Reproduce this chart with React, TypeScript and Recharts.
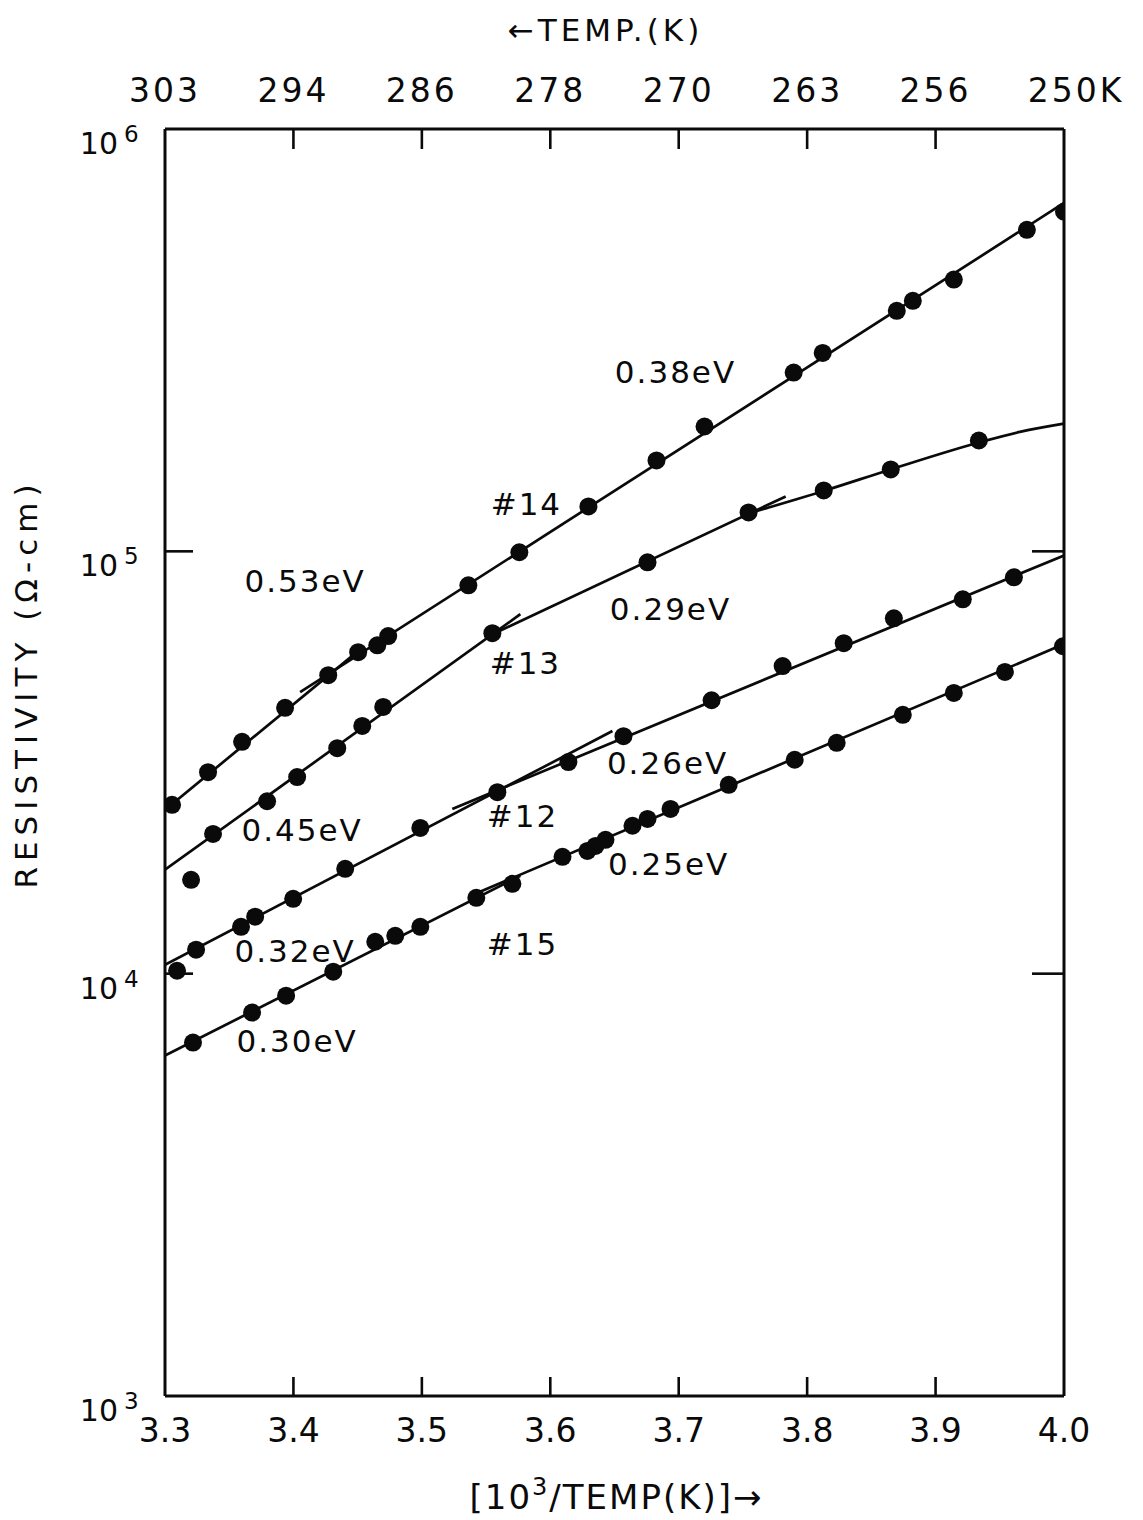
import React from 'react';
import { ComposedChart, XAxis, YAxis, Scatter, Line } from 'recharts';

const FONT = '"DejaVu Sans", "Liberation Sans", sans-serif';

// ---- axes ----
const xTicks = [3.3, 3.4, 3.5, 3.6, 3.7, 3.8, 3.9, 4.0];
const xTickLabels = ['3.3', '3.4', '3.5', '3.6', '3.7', '3.8', '3.9', '4.0'];
const topTickLabels = ['303', '294', '286', '278', '270', '263', '256', '250K'];
const yTicks = [1e3, 1e4, 1e5, 1e6];
const yTickExponents = ['3', '4', '5', '6'];
const yInnerTicks = [1e4, 1e5];

// ---- measured points (x = 10^3/T, y = resistivity in ohm-cm) ----
const sample14 = [
  { x: 3.3055, y: 2.51e4 }, { x: 3.3335, y: 3.0e4 }, { x: 3.36, y: 3.54e4 },
  { x: 3.3935, y: 4.26e4 }, { x: 3.4271, y: 5.09e4 }, { x: 3.4504, y: 5.77e4 },
  { x: 3.4653, y: 5.99e4 }, { x: 3.4738, y: 6.3e4 }, { x: 3.5362, y: 8.31e4 },
  { x: 3.5759, y: 9.95e4 }, { x: 3.6297, y: 1.277e5 }, { x: 3.6827, y: 1.641e5 },
  { x: 3.7201, y: 1.975e5 }, { x: 3.7895, y: 2.65e5 }, { x: 3.8121, y: 2.95e5 },
  { x: 3.8698, y: 3.71e5 }, { x: 3.8823, y: 3.92e5 }, { x: 3.9142, y: 4.4e5 },
  { x: 3.9711, y: 5.77e5 }, { x: 4.0, y: 6.37e5 },
];
const sample13 = [
  { x: 3.3203, y: 1.668e4 }, { x: 3.3374, y: 2.142e4 }, { x: 3.3795, y: 2.56e4 },
  { x: 3.4029, y: 2.92e4 }, { x: 3.4341, y: 3.42e4 }, { x: 3.4536, y: 3.86e4 },
  { x: 3.4699, y: 4.28e4 }, { x: 3.5549, y: 6.4e4 }, { x: 3.6757, y: 9.42e4 },
  { x: 3.7544, y: 1.236e5 }, { x: 3.8129, y: 1.394e5 }, { x: 3.8651, y: 1.563e5 },
  { x: 3.9337, y: 1.83e5 },
];
const sample12 = [
  { x: 3.3094, y: 1.016e4 }, { x: 3.3242, y: 1.14e4 }, { x: 3.3592, y: 1.291e4 },
  { x: 3.3702, y: 1.364e4 }, { x: 3.3998, y: 1.504e4 }, { x: 3.4403, y: 1.771e4 },
  { x: 3.4988, y: 2.214e4 }, { x: 3.5588, y: 2.69e4 }, { x: 3.6141, y: 3.17e4 },
  { x: 3.657, y: 3.65e4 }, { x: 3.7256, y: 4.44e4 }, { x: 3.7809, y: 5.35e4 },
  { x: 3.8285, y: 6.06e4 }, { x: 3.8675, y: 6.94e4 }, { x: 3.9212, y: 7.7e4 },
  { x: 3.961, y: 8.68e4 },
];
const sample15 = [
  { x: 3.3218, y: 6.87e3 }, { x: 3.3678, y: 8.09e3 }, { x: 3.3943, y: 8.87e3 },
  { x: 3.431, y: 1.011e4 }, { x: 3.4637, y: 1.19e4 }, { x: 3.4793, y: 1.229e4 },
  { x: 3.4988, y: 1.291e4 }, { x: 3.5424, y: 1.512e4 }, { x: 3.5705, y: 1.632e4 },
  { x: 3.6095, y: 1.891e4 }, { x: 3.6289, y: 1.953e4 }, { x: 3.6352, y: 2.007e4 },
  { x: 3.643, y: 2.074e4 }, { x: 3.664, y: 2.24e4 }, { x: 3.6757, y: 2.325e4 },
  { x: 3.6936, y: 2.455e4 }, { x: 3.7389, y: 2.8e4 }, { x: 3.7903, y: 3.21e4 },
  { x: 3.823, y: 3.52e4 }, { x: 3.8745, y: 4.1e4 }, { x: 3.9142, y: 4.62e4 },
  { x: 3.954, y: 5.18e4 }, { x: 3.9992, y: 5.96e4 },
];

// ---- fitted lines ----
const fit14a = [{ x: 3.3, y: 2.442e4 }, { x: 3.4536, y: 5.915e4 }]; // 0.53 eV
const fit14b = [{ x: 3.4052, y: 4.64e4 }, { x: 4.0, y: 6.68e5 }]; // 0.38 eV
const fit13a = [{ x: 3.3, y: 1.762e4 }, { x: 3.5767, y: 7.1e4 }]; // 0.45 eV
const fit13b = [{ x: 3.5533, y: 6.33e4 }, { x: 3.7833, y: 1.349e5 }]; // 0.29 eV
const fit13c = [
  { x: 3.7544, y: 1.23e5 }, { x: 3.8129, y: 1.39e5 }, { x: 3.8651, y: 1.563e5 },
  { x: 3.9337, y: 1.81e5 }, { x: 3.9665, y: 1.921e5 }, { x: 4.0, y: 2.007e5 },
];
const fit12a = [{ x: 3.3, y: 1.05e4 }, { x: 3.6484, y: 3.754e4 }]; // 0.32 eV
const fit12b = [{ x: 3.5237, y: 2.455e4 }, { x: 4.0, y: 9.78e4 }]; // 0.26 eV
const fit15a = [{ x: 3.3, y: 6.4e3 }, { x: 3.5767, y: 1.705e4 }]; // 0.30 eV
const fit15b = [{ x: 3.5416, y: 1.546e4 }, { x: 4.0, y: 6.03e4 }]; // 0.25 eV

// ---- annotations ----
const annotations = [
  { x: 3.4091, y: 8.49e4, label: '0.53eV' },
  { x: 3.6975, y: 2.664e5, label: '0.38eV' },
  { x: 3.5814, y: 1.291e5, label: '#14' },
  { x: 3.6936, y: 7.29e4, label: '0.29eV' },
  { x: 3.5806, y: 5.44e4, label: '#13' },
  { x: 3.4068, y: 2.19e4, label: '0.45eV' },
  { x: 3.6913, y: 3.155e4, label: '0.26eV' },
  { x: 3.5783, y: 2.363e4, label: '#12' },
  { x: 3.6921, y: 1.82e4, label: '0.25eV' },
  { x: 3.5783, y: 1.177e4, label: '#15' },
  { x: 3.4013, y: 1.133e4, label: '0.32eV' },
  { x: 3.4029, y: 6.91e3, label: '0.30eV' },
];

const fitLines = [fit14a, fit14b, fit13a, fit13b, fit12a, fit12b, fit15a, fit15b];
const samples = [sample14, sample13, sample12, sample15];

// ---- layout ----
const W = 1127;
const H = 1512;
const M = { top: 41, right: 51, bottom: 64, left: 57 };
const YL_W = 100;
const YR_W = 20;
const XT_H = 80;
const XB_H = 60;
const PLOT_LEFT = M.left + YL_W;
const PLOT_RIGHT = W - M.right - YR_W;
const PLOT_TOP = M.top + XT_H;
const PLOT_BOTTOM = H - M.bottom - XB_H;
const INK = '#0a0a0a';

const BottomTick = (props: any) => {
  const { x, y, payload } = props;
  const i = xTicks.indexOf(payload.value);
  const inner = i > 0 && i < xTicks.length - 1;
  return (
    <g>
      {inner && <line x1={x} y1={y} x2={x} y2={y - 19} stroke={INK} strokeWidth={2.6} />}
      <text x={x} y={y + 46} textAnchor="middle" fontSize={33} fontFamily={FONT} fill={INK}>
        {xTickLabels[i]}
      </text>
    </g>
  );
};

const TopTick = (props: any) => {
  const { x, y, payload } = props;
  const i = xTicks.indexOf(payload.value);
  const inner = i > 0 && i < xTicks.length - 1;
  const last = i === xTicks.length - 1;
  return (
    <g>
      {inner && <line x1={x} y1={y} x2={x} y2={y + 20} stroke={INK} strokeWidth={2.6} />}
      <text
        x={last ? x + 12 : x}
        y={y - 27}
        textAnchor="middle"
        fontSize={33}
        letterSpacing={3}
        fontFamily={FONT}
        fill={INK}
      >
        {topTickLabels[i]}
      </text>
    </g>
  );
};

const LeftTick = (props: any) => {
  const { x, y, payload } = props;
  const i = yTicks.indexOf(payload.value);
  const inner = yInnerTicks.includes(payload.value);
  return (
    <g>
      {inner && <line x1={x} y1={y} x2={x + 28} y2={y} stroke={INK} strokeWidth={2.6} />}
      <text x={x - 47} y={y + 25} textAnchor="end" fontSize={30} fontFamily={FONT} fill={INK}>
        10
      </text>
      <text x={x - 41} y={y + 13} textAnchor="start" fontSize={23} fontFamily={FONT} fill={INK}>
        {yTickExponents[i]}
      </text>
    </g>
  );
};

const RightTick = (props: any) => {
  const { x, y, payload } = props;
  const inner = yInnerTicks.includes(payload.value);
  return <g>{inner && <line x1={x} y1={y} x2={x - 32} y2={y} stroke={INK} strokeWidth={2.6} />}</g>;
};

const Dot = (p: any) => <circle cx={p.cx} cy={p.cy} r={9} fill={INK} />;

const Annotation = (p: any) => (
  <text
    x={p.cx}
    y={p.cy + 11}
    textAnchor="middle"
    fontSize={31}
    letterSpacing={2}
    fontFamily={FONT}
    fill={INK}
  >
    {p.payload.label}
  </text>
);

export default function App() {
  return (
    <div style={{ position: 'relative', width: W, height: H, background: '#fff' }}>
      <ComposedChart width={W} height={H} margin={M}>
        <XAxis
          xAxisId="b"
          dataKey="x"
          type="number"
          domain={[3.3, 4.0]}
          ticks={xTicks}
          interval={0}
          allowDataOverflow
          orientation="bottom"
          height={XB_H}
          tickSize={0}
          tickMargin={0}
          tickLine={false}
          axisLine={{ stroke: INK, strokeWidth: 3 }}
          tick={BottomTick}
        />
        <XAxis
          xAxisId="t"
          dataKey="x"
          type="number"
          domain={[3.3, 4.0]}
          ticks={xTicks}
          interval={0}
          allowDataOverflow
          orientation="top"
          height={XT_H}
          tickSize={0}
          tickMargin={0}
          tickLine={false}
          axisLine={{ stroke: INK, strokeWidth: 3 }}
          tick={TopTick}
        />
        <YAxis
          yAxisId="l"
          dataKey="y"
          type="number"
          scale="log"
          domain={[1e3, 1e6]}
          ticks={yTicks}
          interval={0}
          allowDataOverflow
          orientation="left"
          width={YL_W}
          tickSize={0}
          tickMargin={0}
          tickLine={false}
          axisLine={{ stroke: INK, strokeWidth: 3 }}
          tick={LeftTick}
        />
        <YAxis
          yAxisId="r"
          dataKey="y"
          type="number"
          scale="log"
          domain={[1e3, 1e6]}
          ticks={yTicks}
          interval={0}
          allowDataOverflow
          orientation="right"
          width={YR_W}
          tickSize={0}
          tickMargin={0}
          tickLine={false}
          axisLine={{ stroke: INK, strokeWidth: 3 }}
          tick={RightTick}
        />
        {fitLines.map((d, i) => (
          <Line
            key={'fit' + i}
            xAxisId="b"
            yAxisId="l"
            data={d}
            dataKey="y"
            type="linear"
            stroke={INK}
            strokeWidth={2.7}
            dot={false}
            activeDot={false}
            legendType="none"
            isAnimationActive={false}
          />
        ))}
        <Line
          xAxisId="b"
          yAxisId="l"
          data={fit13c}
          dataKey="y"
          type="monotone"
          stroke={INK}
          strokeWidth={2.7}
          dot={false}
          activeDot={false}
          legendType="none"
          isAnimationActive={false}
        />
        {samples.map((d, i) => (
          <Scatter
            key={'s' + i}
            xAxisId="b"
            yAxisId="l"
            data={d}
            dataKey="y"
            shape={Dot}
            legendType="none"
            isAnimationActive={false}
          />
        ))}
        <Scatter
          xAxisId="b"
          yAxisId="l"
          data={annotations}
          dataKey="y"
          shape={Annotation}
          legendType="none"
          isAnimationActive={false}
        />
      </ComposedChart>
      <svg
        width={W}
        height={H}
        style={{ position: 'absolute', left: 0, top: 0, pointerEvents: 'none' }}
      >
        <text
          x={(PLOT_LEFT + PLOT_RIGHT) / 2 - 9}
          y={PLOT_TOP - 88}
          textAnchor="middle"
          fontSize={31}
          letterSpacing={4}
          fontFamily={FONT}
          fill={INK}
        >
          ←TEMP.(K)
        </text>
        <text
          x={(PLOT_LEFT + PLOT_RIGHT) / 2 + 2}
          y={PLOT_BOTTOM + 113}
          textAnchor="middle"
          fontSize={34}
          letterSpacing={2}
          fontFamily={FONT}
          fill={INK}
        >
          [10
          <tspan dy={-14} fontSize={24}>3</tspan>
          <tspan dy={14}>/TEMP(K)]→</tspan>
        </text>
        <text
          x={PLOT_LEFT - 128}
          y={(PLOT_TOP + PLOT_BOTTOM) / 2 - 79}
          transform={`rotate(-90, ${PLOT_LEFT - 128}, ${(PLOT_TOP + PLOT_BOTTOM) / 2 - 79})`}
          textAnchor="middle"
          fontSize={31}
          letterSpacing={6}
          fontFamily={FONT}
          fill={INK}
        >
          RESISTIVITY (Ω-cm)
        </text>
      </svg>
    </div>
  );
}
